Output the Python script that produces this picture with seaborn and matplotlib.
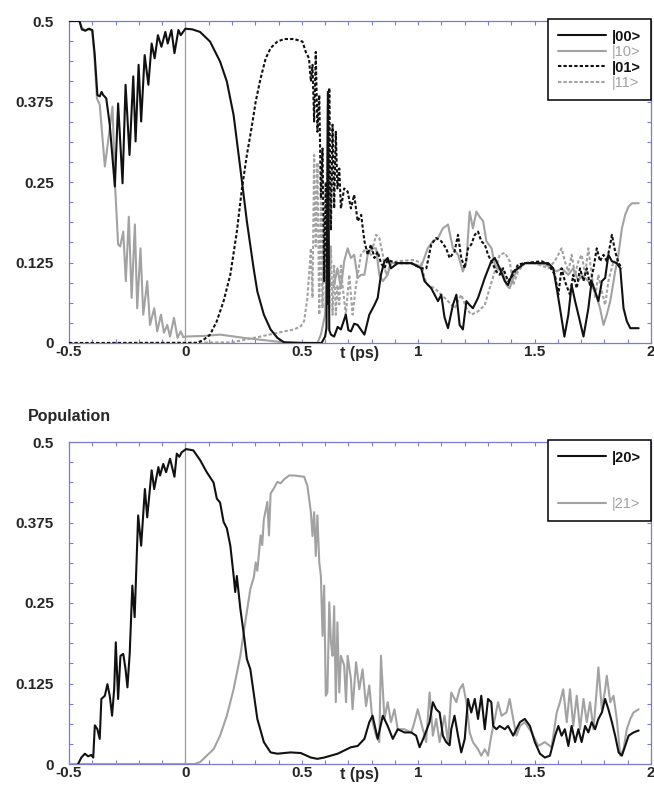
import matplotlib
matplotlib.use("Agg")
import matplotlib.pyplot as plt
from matplotlib.lines import Line2D
from matplotlib.ticker import MultipleLocator
import pandas as pd
import seaborn as sns

# ---------------- data ----------------
x_ticks = [-0.5, 0, 0.5, 1, 1.5, 2]
x_tick_labels = ["-0.5", "0", "0.5", "1", "1.5", "2"]
y_ticks = [0, 0.125, 0.25, 0.375, 0.5]
y_tick_labels = ["0", "0.125", "0.25", "0.375", "0.5"]

top_states = ["|00>", "|10>", "|01>", "|11>"]
bottom_states = ["|20>", "|21>"]

t00 = [-0.500, -0.455, -0.445, -0.430, -0.415, -0.400, -0.390, -0.378, -0.368, -0.360,
       -0.353, -0.340, -0.325, -0.303, -0.289, -0.270, -0.257, -0.240, -0.224, -0.214,
       -0.201, -0.190, -0.175, -0.159, -0.145, -0.132, -0.118, -0.103, -0.086, -0.076,
       -0.060, -0.047, -0.030, -0.020, 0.000, 0.030, 0.063, 0.106, 0.149, 0.178,
       0.207, 0.236, 0.264, 0.293, 0.309, 0.337, 0.366, 0.395, 0.424, 0.500,
       0.585, 0.600, 0.606, 0.612, 0.618, 0.625, 0.639, 0.654, 0.668, 0.689,
       0.700, 0.711, 0.725, 0.740, 0.755, 0.769, 0.790, 0.812, 0.826, 0.840,
       0.855, 0.869, 0.883, 0.912, 0.970, 1.013, 1.027, 1.056, 1.085, 1.099,
       1.113, 1.128, 1.149, 1.164, 1.178, 1.192, 1.207, 1.221, 1.235, 1.257,
       1.286, 1.314, 1.329, 1.350, 1.372, 1.386, 1.408, 1.429, 1.458, 1.500,
       1.559, 1.580, 1.595, 1.609, 1.628, 1.645, 1.659, 1.674, 1.688, 1.710,
       1.731, 1.745, 1.760, 1.774, 1.789, 1.803, 1.817, 1.832, 1.853, 1.868,
       1.882, 1.896, 1.911, 1.947]
p00 = [0.500, 0.500, 0.487, 0.485, 0.488, 0.486, 0.450, 0.385, 0.383, 0.390,
       0.385, 0.380, 0.339, 0.243, 0.372, 0.248, 0.401, 0.292, 0.414, 0.313,
       0.432, 0.344, 0.447, 0.401, 0.465, 0.442, 0.478, 0.460, 0.483, 0.465,
       0.486, 0.450, 0.486, 0.478, 0.488, 0.487, 0.483, 0.468, 0.437, 0.406,
       0.354, 0.271, 0.189, 0.116, 0.080, 0.044, 0.021, 0.008, 0.001, 0.000,
       0.000, 0.010, 0.023, 0.390, 0.020, 0.013, 0.010, 0.025, 0.021, 0.044,
       0.020, 0.018, 0.030, 0.028, 0.020, 0.013, 0.044, 0.059, 0.070, 0.106,
       0.127, 0.132, 0.116, 0.124, 0.124, 0.116, 0.096, 0.085, 0.065, 0.075,
       0.040, 0.023, 0.059, 0.075, 0.028, 0.021, 0.065, 0.059, 0.054, 0.070,
       0.101, 0.127, 0.132, 0.116, 0.096, 0.090, 0.111, 0.116, 0.124, 0.124,
       0.124, 0.116, 0.085, 0.054, 0.010, 0.044, 0.090, 0.065, 0.044, 0.010,
       0.054, 0.096, 0.080, 0.065, 0.096, 0.101, 0.137, 0.127, 0.124, 0.116,
       0.054, 0.034, 0.023, 0.023]

t10 = [-0.500, -0.455, -0.445, -0.430, -0.415, -0.400, -0.390, -0.380, -0.368, -0.346,
       -0.313, -0.303, -0.289, -0.280, -0.267, -0.256, -0.243, -0.231, -0.217, -0.207,
       -0.193, -0.181, -0.164, -0.152, -0.134, -0.121, -0.105, -0.092, -0.078, -0.066,
       -0.049, -0.034, -0.020, -0.009, 0.000, 0.080, 0.150, 0.250, 0.350, 0.420,
       0.567, 0.582, 0.600, 0.606, 0.612, 0.618, 0.625, 0.639, 0.653, 0.668,
       0.682, 0.697, 0.711, 0.725, 0.740, 0.755, 0.769, 0.783, 0.797, 0.819,
       0.833, 0.848, 0.869, 0.883, 0.912, 0.970, 1.013, 1.041, 1.063, 1.085,
       1.106, 1.128, 1.149, 1.171, 1.192, 1.207, 1.221, 1.235, 1.250, 1.264,
       1.279, 1.293, 1.315, 1.329, 1.343, 1.358, 1.379, 1.393, 1.408, 1.429,
       1.458, 1.500, 1.544, 1.573, 1.595, 1.616, 1.645, 1.666, 1.688, 1.702,
       1.731, 1.760, 1.781, 1.796, 1.810, 1.825, 1.846, 1.860, 1.875, 1.889,
       1.904, 1.918, 1.947]
p10 = [0.500, 0.500, 0.490, 0.485, 0.487, 0.485, 0.440, 0.380, 0.370, 0.274,
       0.367, 0.251, 0.153, 0.150, 0.173, 0.096, 0.196, 0.070, 0.184, 0.054,
       0.147, 0.044, 0.096, 0.028, 0.054, 0.018, 0.044, 0.016, 0.028, 0.010,
       0.039, 0.008, 0.018, 0.009, 0.010, 0.011, 0.013, 0.008, 0.004, 0.001,
       0.000, 0.013, 0.044, 0.096, 0.370, 0.096, 0.090, 0.090, 0.116, 0.085,
       0.127, 0.147, 0.132, 0.137, 0.101, 0.106, 0.106, 0.137, 0.147, 0.147,
       0.106, 0.096, 0.106, 0.124, 0.124, 0.124, 0.119, 0.147, 0.158, 0.163,
       0.178, 0.184, 0.147, 0.137, 0.111, 0.127, 0.204, 0.178, 0.204, 0.196,
       0.189, 0.158, 0.147, 0.122, 0.114, 0.116, 0.090, 0.085, 0.101, 0.116,
       0.124, 0.124, 0.122, 0.116, 0.111, 0.116, 0.106, 0.116, 0.096, 0.106,
       0.096, 0.080, 0.054, 0.028, 0.044, 0.065, 0.111, 0.137, 0.178, 0.199,
       0.212, 0.217, 0.217]

t01 = [-0.500, 0.050, 0.078, 0.106, 0.135, 0.164, 0.193, 0.221, 0.243, 0.264,
       0.280, 0.293, 0.302, 0.323, 0.345, 0.366, 0.395, 0.424, 0.467, 0.503,
       0.517, 0.531, 0.539, 0.546, 0.553, 0.560, 0.567, 0.575, 0.582, 0.589,
       0.596, 0.603, 0.610, 0.618, 0.625, 0.632, 0.639, 0.646, 0.653, 0.661,
       0.668, 0.682, 0.697, 0.711, 0.725, 0.740, 0.755, 0.769, 0.783, 0.797,
       0.812, 0.826, 0.840, 0.855, 0.869, 0.883, 0.912, 0.970, 1.013, 1.035,
       1.056, 1.077, 1.099, 1.120, 1.135, 1.156, 1.171, 1.185, 1.200, 1.214,
       1.228, 1.243, 1.257, 1.271, 1.286, 1.300, 1.314, 1.336, 1.350, 1.365,
       1.386, 1.408, 1.429, 1.458, 1.530, 1.559, 1.587, 1.602, 1.616, 1.630,
       1.652, 1.666, 1.681, 1.695, 1.710, 1.724, 1.738, 1.753, 1.767, 1.781,
       1.796, 1.810, 1.825, 1.832, 1.846, 1.861, 1.875]
p01 = [0.000, 0.000, 0.005, 0.013, 0.034, 0.065, 0.106, 0.173, 0.240, 0.292,
       0.325, 0.354, 0.375, 0.411, 0.442, 0.458, 0.468, 0.472, 0.472, 0.468,
       0.452, 0.442, 0.406, 0.432, 0.344, 0.452, 0.328, 0.385, 0.225, 0.302,
       0.096, 0.250, 0.059, 0.396, 0.175, 0.339, 0.209, 0.328, 0.240, 0.271,
       0.209, 0.240, 0.235, 0.209, 0.230, 0.189, 0.199, 0.158, 0.137, 0.153,
       0.132, 0.142, 0.124, 0.116, 0.129, 0.127, 0.124, 0.124, 0.116, 0.116,
       0.153, 0.163, 0.158, 0.147, 0.132, 0.142, 0.168, 0.132, 0.116, 0.147,
       0.153, 0.168, 0.173, 0.158, 0.153, 0.137, 0.127, 0.111, 0.106, 0.116,
       0.096, 0.106, 0.122, 0.124, 0.127, 0.122, 0.106, 0.075, 0.116, 0.096,
       0.075, 0.106, 0.085, 0.116, 0.096, 0.116, 0.090, 0.116, 0.147, 0.127,
       0.137, 0.127, 0.153, 0.168, 0.142, 0.124, 0.116]

t11 = [-0.500, 0.200, 0.322, 0.424, 0.467, 0.496, 0.510, 0.524, 0.531, 0.539,
       0.546, 0.553, 0.560, 0.567, 0.575, 0.582, 0.589, 0.596, 0.603, 0.610,
       0.618, 0.625, 0.632, 0.639, 0.646, 0.653, 0.661, 0.668, 0.675, 0.689,
       0.704, 0.718, 0.733, 0.754, 0.776, 0.797, 0.819, 0.833, 0.848, 0.862,
       0.883, 0.912, 0.984, 1.013, 1.027, 1.041, 1.070, 1.099, 1.128, 1.156,
       1.185, 1.207, 1.228, 1.257, 1.286, 1.307, 1.329, 1.350, 1.372, 1.393,
       1.408, 1.429, 1.458, 1.500, 1.559, 1.587, 1.616, 1.630, 1.645, 1.659,
       1.674, 1.688, 1.702, 1.717, 1.731, 1.745, 1.760, 1.774, 1.789, 1.803,
       1.817, 1.839, 1.861]
p11 = [0.000, 0.001, 0.010, 0.018, 0.021, 0.026, 0.034, 0.070, 0.106, 0.147,
       0.070, 0.292, 0.150, 0.280, 0.044, 0.225, 0.054, 0.199, 0.070, 0.175,
       0.054, 0.150, 0.044, 0.120, 0.044, 0.090, 0.060, 0.120, 0.090, 0.044,
       0.106, 0.044, 0.090, 0.137, 0.147, 0.137, 0.168, 0.163, 0.137, 0.106,
       0.124, 0.127, 0.129, 0.124, 0.101, 0.090, 0.085, 0.075, 0.065, 0.054,
       0.075, 0.054, 0.044, 0.049, 0.059, 0.085, 0.111, 0.137, 0.140, 0.127,
       0.090, 0.111, 0.124, 0.124, 0.116, 0.127, 0.147, 0.127, 0.111, 0.137,
       0.106, 0.127, 0.137, 0.106, 0.147, 0.106, 0.070, 0.106, 0.080, 0.059,
       0.096, 0.127, 0.122]

t20 = [-0.461, -0.447, -0.432, -0.418, -0.404, -0.396, -0.389, -0.378, -0.368, -0.361,
       -0.346, -0.335, -0.325, -0.315, -0.306, -0.299, -0.289, -0.279, -0.267, -0.257,
       -0.249, -0.239, -0.228, -0.218, -0.203, -0.190, -0.174, -0.164, -0.145, -0.134,
       -0.116, -0.109, -0.095, -0.083, -0.066, -0.047, -0.037, -0.026, -0.016, 0.003,
       0.034, 0.063, 0.092, 0.121, 0.135, 0.149, 0.164, 0.178, 0.193, 0.207,
       0.214, 0.221, 0.236, 0.250, 0.264, 0.279, 0.293, 0.309, 0.337, 0.366,
       0.395, 0.452, 0.496, 0.539, 0.567, 0.596, 0.625, 0.654, 0.682, 0.711,
       0.740, 0.769, 0.790, 0.804, 0.826, 0.848, 0.869, 0.891, 0.912, 0.941,
       0.970, 0.991, 1.006, 1.027, 1.049, 1.063, 1.077, 1.092, 1.106, 1.120,
       1.135, 1.142, 1.156, 1.171, 1.185, 1.200, 1.214, 1.228, 1.243, 1.257,
       1.271, 1.286, 1.300, 1.314, 1.322, 1.336, 1.350, 1.372, 1.386, 1.408,
       1.422, 1.437, 1.458, 1.480, 1.501, 1.523, 1.544, 1.566, 1.588, 1.602,
       1.616, 1.630, 1.645, 1.659, 1.674, 1.688, 1.702, 1.717, 1.731, 1.745,
       1.760, 1.774, 1.789, 1.803, 1.817, 1.832, 1.846, 1.861, 1.875, 1.889,
       1.904, 1.925, 1.947]
p20 = [0.000, 0.010, 0.016, 0.012, 0.014, 0.010, 0.060, 0.054, 0.039, 0.101,
       0.106, 0.124, 0.106, 0.075, 0.116, 0.189, 0.101, 0.168, 0.171, 0.147,
       0.119, 0.173, 0.277, 0.228, 0.386, 0.339, 0.427, 0.383, 0.456, 0.427,
       0.461, 0.448, 0.466, 0.453, 0.474, 0.446, 0.482, 0.477, 0.484, 0.489,
       0.487, 0.472, 0.453, 0.437, 0.412, 0.406, 0.376, 0.366, 0.339, 0.293,
       0.267, 0.292, 0.241, 0.204, 0.163, 0.147, 0.111, 0.070, 0.034, 0.018,
       0.016, 0.018, 0.017, 0.010, 0.008, 0.010, 0.013, 0.016, 0.021, 0.026,
       0.028, 0.039, 0.065, 0.075, 0.039, 0.075, 0.059, 0.039, 0.054, 0.049,
       0.049, 0.044, 0.026, 0.044, 0.065, 0.096, 0.085, 0.080, 0.044, 0.034,
       0.029, 0.054, 0.075, 0.044, 0.018, 0.039, 0.101, 0.080, 0.101, 0.070,
       0.106, 0.054, 0.101, 0.096, 0.059, 0.054, 0.059, 0.054, 0.059, 0.044,
       0.054, 0.065, 0.070, 0.059, 0.034, 0.016, 0.010, 0.013, 0.044, 0.059,
       0.044, 0.054, 0.028, 0.059, 0.034, 0.054, 0.034, 0.059, 0.049, 0.065,
       0.054, 0.070, 0.080, 0.101, 0.085, 0.065, 0.044, 0.018, 0.013, 0.028,
       0.044, 0.049, 0.052]

t21 = [-0.500, 0.040, 0.063, 0.092, 0.121, 0.149, 0.178, 0.207, 0.236, 0.257,
       0.279, 0.294, 0.302, 0.309, 0.323, 0.330, 0.337, 0.352, 0.359, 0.366,
       0.380, 0.395, 0.409, 0.424, 0.445, 0.467, 0.510, 0.524, 0.539, 0.546,
       0.553, 0.560, 0.567, 0.575, 0.582, 0.589, 0.596, 0.603, 0.610, 0.618,
       0.625, 0.632, 0.639, 0.646, 0.653, 0.661, 0.668, 0.682, 0.690, 0.697,
       0.711, 0.718, 0.733, 0.747, 0.761, 0.776, 0.790, 0.804, 0.819, 0.833,
       0.840, 0.855, 0.869, 0.883, 0.898, 0.912, 0.941, 0.970, 0.984, 0.998,
       1.020, 1.034, 1.049, 1.063, 1.077, 1.092, 1.113, 1.128, 1.142, 1.164,
       1.178, 1.192, 1.207, 1.221, 1.235, 1.257, 1.271, 1.286, 1.300, 1.314,
       1.329, 1.343, 1.358, 1.379, 1.393, 1.408, 1.422, 1.437, 1.458, 1.487,
       1.516, 1.544, 1.573, 1.595, 1.609, 1.623, 1.638, 1.652, 1.666, 1.681,
       1.695, 1.710, 1.724, 1.738, 1.753, 1.767, 1.774, 1.789, 1.803, 1.810,
       1.825, 1.839, 1.853, 1.868, 1.882, 1.896, 1.911, 1.925, 1.947]
p21 = [0.000, 0.000, 0.003, 0.013, 0.023, 0.044, 0.075, 0.116, 0.168, 0.220,
       0.272, 0.290, 0.313, 0.300, 0.355, 0.340, 0.380, 0.407, 0.355, 0.420,
       0.428, 0.438, 0.436, 0.442, 0.448, 0.448, 0.446, 0.432, 0.391, 0.354,
       0.391, 0.323, 0.386, 0.313, 0.292, 0.199, 0.277, 0.106, 0.111, 0.251,
       0.189, 0.168, 0.245, 0.096, 0.220, 0.111, 0.168, 0.153, 0.096, 0.168,
       0.132, 0.085, 0.158, 0.116, 0.147, 0.090, 0.122, 0.065, 0.044, 0.034,
       0.168, 0.070, 0.096, 0.065, 0.085, 0.054, 0.054, 0.049, 0.065, 0.085,
       0.054, 0.034, 0.111, 0.044, 0.070, 0.034, 0.075, 0.034, 0.111, 0.096,
       0.116, 0.124, 0.096, 0.049, 0.034, 0.023, 0.013, 0.023, 0.013, 0.044,
       0.070, 0.096, 0.075, 0.080, 0.101, 0.070, 0.044, 0.059, 0.065, 0.049,
       0.028, 0.034, 0.026, 0.080, 0.096, 0.116, 0.065, 0.116, 0.059, 0.106,
       0.054, 0.101, 0.065, 0.096, 0.054, 0.116, 0.150, 0.085, 0.116, 0.137,
       0.096, 0.106, 0.070, 0.013, 0.023, 0.054, 0.070, 0.080, 0.085]

# ---------------- styling ----------------
sns.set_style("white")
plt.rcParams["font.family"] = ["Liberation Sans", "DejaVu Sans"]

BLACK = "#111111"
GRAY = "#a2a2a2"
SPINE = "#7b7bd3"
LW = 1.5
DASH = (0, (1.6, 1.0))
TICK_FS = 11

series_top = [
    ("|11>", t11, p11, GRAY, DASH),
    ("|10>", t10, p10, GRAY, "-"),
    ("|01>", t01, p01, BLACK, DASH),
    ("|00>", t00, p00, BLACK, "-"),
]
series_bottom = [
    ("|21>", t21, p21, GRAY, "-"),
    ("|20>", t20, p20, BLACK, "-"),
]

fig = plt.figure(figsize=(6.54, 7.98), dpi=100)
W, H = 654.0, 798.0
ax1 = fig.add_axes([69 / W, 1 - 343 / H, (651 - 69) / W, 322 / H])
ax2 = fig.add_axes([69 / W, 1 - 764 / H, (651 - 69) / W, 322 / H])


def draw(ax, series):
    for name, t, p, col, ls in series:
        df = pd.DataFrame({"t": t, "p": p})
        sns.lineplot(data=df, x="t", y="p", ax=ax, color=col, linestyle=ls,
                     linewidth=LW, sort=False, estimator=None, legend=False,
                     zorder=3)


def style(ax):
    ax.set_xlim(-0.5, 2)
    ax.set_ylim(0, 0.5)
    ax.set_xticks(x_ticks)
    ax.set_xticklabels(x_tick_labels, fontweight="bold", fontsize=TICK_FS)
    ax.set_yticks(y_ticks)
    ax.set_yticklabels(y_tick_labels, fontweight="bold", fontsize=TICK_FS)
    ax.xaxis.set_minor_locator(MultipleLocator(0.1))
    ax.yaxis.set_minor_locator(MultipleLocator(0.03125))
    ax.tick_params(which="both", direction="in", top=True, right=True,
                   bottom=True, left=True, color=SPINE, length=3.2, width=0.8)
    ax.tick_params(axis="y", pad=11)
    ax.tick_params(axis="x", pad=1.5)
    for s in ax.spines.values():
        s.set_visible(True)
        s.set_color(SPINE)
        s.set_linewidth(0.9)
    ax.axvline(0, color="#9a9a9a", lw=0.9, zorder=1)
    ax.set_ylabel("")
    ax.set_xlabel("t (ps)", fontweight="bold", fontsize=11.5)
    ax.xaxis.set_label_coords(0.5, -0.008)
    ax.grid(False)


def legend(ax, entries):
    handles, labels, colors = [], [], []
    for name, col, ls in entries:
        if name is None:
            handles.append(Line2D([], [], color="none"))
            labels.append(" ")
            colors.append("white")
        else:
            handles.append(Line2D([], [], color=col, linestyle=ls, linewidth=LW))
            labels.append(name)
            colors.append(col)
    leg = ax.legend(handles, labels, loc="upper right", bbox_to_anchor=(1.0, 1.005),
                    borderaxespad=0.0, fancybox=False, framealpha=1.0,
                    edgecolor="black", handlelength=3.3, handletextpad=0.4,
                    labelspacing=0.1, borderpad=0.7,
                    prop={"weight": "bold", "size": 10.5})
    leg.get_frame().set_linewidth(1.1)
    for txt, col in zip(leg.get_texts(), colors):
        txt.set_color(col)
        if col == GRAY:
            txt.set_fontweight("normal")
    leg.set_zorder(10)


draw(ax1, series_top)
style(ax1)
legend(ax1, [("|00>", BLACK, "-"), ("|10>", GRAY, "-"),
             ("|01>", BLACK, DASH), ("|11>", GRAY, DASH)])

draw(ax2, series_bottom)
style(ax2)
legend(ax2, [("|20>", BLACK, "-"), (None, None, None),
             (None, None, None), ("|21>", GRAY, "-")])

fig.text(28 / W, 1 - 416 / H, "Population", fontweight="bold", fontsize=11.5,
         ha="left", va="center")

fig.savefig("out.png", dpi=100)
